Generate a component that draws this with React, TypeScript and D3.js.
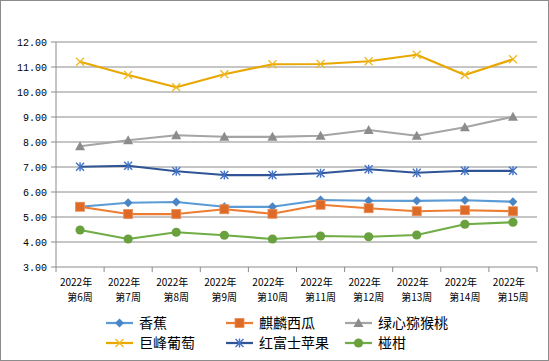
import React from 'react';
import * as d3 from 'd3';

const categories = ['第6周', '第7周', '第8周', '第9周', '第10周', '第11周', '第12周', '第13周', '第14周', '第15周'];
const yearLabel = '2022年';
const yTicks = [3, 4, 5, 6, 7, 8, 9, 10, 11, 12];

const banana = [5.41, 5.57, 5.6, 5.41, 5.41, 5.68, 5.65, 5.65, 5.67, 5.61];
const watermelon = [5.41, 5.12, 5.12, 5.31, 5.13, 5.49, 5.35, 5.23, 5.27, 5.23];
const kiwi = [7.83, 8.07, 8.27, 8.21, 8.21, 8.25, 8.48, 8.25, 8.59, 9.01];
const grape = [11.21, 10.68, 10.19, 10.71, 11.11, 11.12, 11.23, 11.49, 10.68, 11.31];
const apple = [7.01, 7.05, 6.83, 6.68, 6.68, 6.75, 6.91, 6.77, 6.85, 6.85];
const orange = [4.48, 4.12, 4.39, 4.27, 4.12, 4.24, 4.21, 4.28, 4.71, 4.79];

const seriesNames = ['香蕉', '麒麟西瓜', '绿心猕猴桃', '巨峰葡萄', '红富士苹果', '椪柑'];

type Marker = 'diamond' | 'square' | 'triangle' | 'x' | 'star' | 'circle';
const series: { name: string; values: number[]; line: string; mark: string; marker: Marker }[] = [
  { name: seriesNames[0], values: banana, line: '#5B9BD5', mark: '#4A86C5', marker: 'diamond' },
  { name: seriesNames[1], values: watermelon, line: '#ED7D31', mark: '#DD6A26', marker: 'square' },
  { name: seriesNames[2], values: kiwi, line: '#A5A5A5', mark: '#8C8C8C', marker: 'triangle' },
  { name: seriesNames[3], values: grape, line: '#E8A800', mark: '#F0B820', marker: 'x' },
  { name: seriesNames[4], values: apple, line: '#2F5597', mark: '#4472C4', marker: 'star' },
  { name: seriesNames[5], values: orange, line: '#70AD47', mark: '#6AA13F', marker: 'circle' },
];

function MarkerShape({ type, x, y, color }: { type: Marker; x: number; y: number; color: string }) {
  switch (type) {
    case 'diamond':
      return <path d={`M${x},${y - 4.5}L${x + 4.5},${y}L${x},${y + 4.5}L${x - 4.5},${y}Z`} fill={color} />;
    case 'square':
      return <rect x={x - 4.5} y={y - 4.5} width={9} height={9} fill={color} stroke="#E8905A" strokeWidth={0.8} />;
    case 'triangle':
      return <path d={`M${x},${y - 5}L${x + 5},${y + 4}L${x - 5},${y + 4}Z`} fill={color} />;
    case 'x':
      return (
        <path d={`M${x - 4},${y - 4}L${x + 4},${y + 4}M${x + 4},${y - 4}L${x - 4},${y + 4}`} stroke={color} strokeWidth={1.3} fill="none" />
      );
    case 'star':
      return (
        <path
          d={`M${x - 4},${y - 4}L${x + 4},${y + 4}M${x + 4},${y - 4}L${x - 4},${y + 4}M${x},${y - 4.5}L${x},${y + 4.5}`}
          stroke={color}
          strokeWidth={1.4}
          fill="none"
        />
      );
    case 'circle':
      return <circle cx={x} cy={y} r={4.6} fill={color} />;
  }
}

export default function App() {
  const W = 549;
  const H = 361;
  const left = 56;
  const right = 537;
  const top = 42;
  const bottom = 267;

  const x = d3.scaleBand<string>().domain(categories).range([left, right]);
  const y = d3.scaleLinear().domain([3, 12]).range([bottom, top]);
  const cx = (c: string) => (x(c) as number) + x.bandwidth() / 2;

  const line = d3
    .line<number>()
    .x((_, i) => cx(categories[i]))
    .y((v) => y(v));

  const grid = '#8C8C8C';
  const boundaries = d3.range(categories.length + 1).map((i) => left + i * x.bandwidth());

  const legendCols = [106, 226, 345];
  const legendRows = [323, 343];

  return (
    <svg width={W} height={H} style={{ position: 'absolute', left: 0, top: 0 }}>
      <rect x={0.5} y={0.5} width={W - 1} height={H - 1} fill="#fff" stroke="#8C8C8C" />
      {yTicks.map((t) => (
        <g key={t}>
          <line x1={left} x2={right} y1={y(t)} y2={y(t)} stroke={grid} strokeWidth={1} />
          <line x1={left - 5} x2={left} y1={y(t)} y2={y(t)} stroke={grid} strokeWidth={1} />
          <text
            x={47}
            y={y(t) + 3.5}
            textAnchor="end"
            fontFamily="Liberation Mono, DejaVu Sans Mono, monospace"
            fontSize={10}
            fill="#000"
          >
            {d3.format('.2f')(t)}
          </text>
        </g>
      ))}
      <line x1={left} x2={left} y1={top} y2={bottom} stroke={grid} strokeWidth={1} />
      {boundaries.map((b, i) => (
        <line key={i} x1={b} x2={b} y1={bottom} y2={bottom + 5} stroke={grid} strokeWidth={1} />
      ))}
      {categories.map((c) => (
        <g key={c} fontFamily="Noto Sans CJK SC, sans-serif" fontSize={10} fill="#000">
          <text x={cx(c) - 4} y={285.5} textAnchor="middle">
            {yearLabel}
          </text>
          <text x={cx(c)} y={301} textAnchor="middle">
            {c}
          </text>
        </g>
      ))}
      {series.map((s) => (
        <g key={s.name}>
          <path d={line(s.values) as string} fill="none" stroke={s.line} strokeWidth={2.25} strokeLinejoin="round" />
          {s.values.map((v, i) => (
            <MarkerShape key={i} type={s.marker} x={cx(categories[i])} y={y(v)} color={s.mark} />
          ))}
        </g>
      ))}
      {series.map((s, i) => {
        const lx = legendCols[i % 3];
        const ly = legendRows[Math.floor(i / 3)];
        return (
          <g key={s.name}>
            <line x1={lx} x2={lx + 27} y1={ly} y2={ly} stroke={s.line} strokeWidth={2.25} />
            <MarkerShape type={s.marker} x={lx + 13.5} y={ly} color={s.mark} />
            <text x={lx + 33} y={ly + 5} fontFamily="Noto Sans CJK SC, sans-serif" fontSize={14} fill="#000">
              {s.name}
            </text>
          </g>
        );
      })}
    </svg>
  );
}
